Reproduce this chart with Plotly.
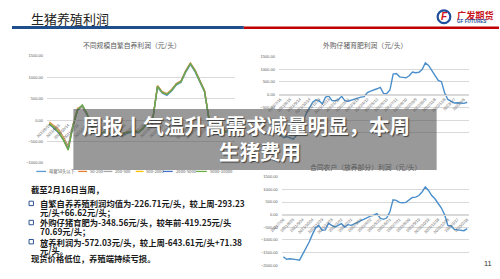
import plotly.graph_objects as go
import pandas as pd

W, H = 500, 279


def fx(px):
    return px / W


def fy(py):
    return 1 - py / H


CJK = "Noto Sans CJK SC"
NUM = "Liberation Sans"

# ---------------- data ----------------
scale_names = ["母猪50头以下", "50-200", "200-500", "500-2000", "2000-5000", "5000-10000"]
scale_colors = ["#5B9BD5", "#ED7D31", "#A5A5A5", "#FFC000", "#4472C4", "#70AD47"]

dates_self = [f"{d.year}/{d.month}/{d.day}" for d in
              pd.date_range(end="2023-02-16", periods=40, freq="14D")]
profit_sub50 = [-100, -180, -260, -420, -600, -120, 230, 320, 120, -150, -350, -330, -280, -340,
                -370, -350, -320, -290, -270, -300, -200, -60, 10, 770, 630, 580, 680, 820, 880,
                1120, 1300, 1130, 880, 660, -20, -270, -320, -300, -270, -250]
profit_50_200 = [-40, -120, -220, -400, -620, -100, 280, 330, 140, -130, -320, -300, -250, -310,
                 -340, -320, -290, -260, -240, -270, -170, -30, 40, 810, 670, 620, 720, 860, 920,
                 1160, 1340, 1170, 920, 700, 20, -230, -280, -260, -230, -210]
profit_200_500 = [-60, -150, -240, -410, -640, -110, 260, 300, 130, -140, -340, -310, -260, -320,
                  -350, -330, -300, -270, -250, -280, -180, -40, 30, 790, 650, 600, 700, 840, 900,
                  1140, 1320, 1150, 900, 680, 0, -250, -300, -280, -250, -226]
profit_500_2000 = [-70, -160, -270, -440, -660, -130, 240, 340, 150, -130, -330, -300, -255, -315,
                   -345, -325, -295, -265, -245, -275, -175, -35, 35, 800, 655, 605, 705, 845, 905,
                   1145, 1325, 1155, 905, 685, 5, -245, -295, -275, -245, -222]
profit_2000_5000 = [-90, -190, -300, -460, -680, -140, 240, 350, 150, -140, -335, -305, -255, -318,
                    -348, -328, -298, -268, -248, -278, -178, -38, 32, 795, 652, 602, 702, 842, 902,
                    1142, 1322, 1152, 902, 682, 2, -248, -298, -278, -248, -224]
profit_5000_10000 = [-80, -170, -290, -470, -700, -150, 250, 360, 160, -120, -330, -310, -260, -320,
                     -350, -330, -300, -270, -250, -280, -180, -40, 30, 790, 650, 600, 700, 840, 900,
                     1140, 1320, 1150, 900, 680, 0, -250, -300, -280, -250, -226]
self_series = [profit_sub50, profit_50_200, profit_200_500, profit_500_2000,
               profit_2000_5000, profit_5000_10000]

dates_piglet = [f"{d.year}/{d.month}/{d.day}" for d in
                pd.date_range(end="2023-02-16", periods=59, freq="10D")]
profit_piglet = [-1600, -1700, -1650, -1700, -1750, -1600, -1350, -1050, -750, -500,
                 -300, -200, -250, -365, -100, -60, -235, -240, -200, -65, -240, -260, -215,
                 -185, -150, -100, -80, 80, 140, 170, 230, 287, 50, 40, 180, 809, 830, 700,
                 678, 660, 740, 887, 860, 880, 990, 1250, 1150, 950, 750, 560, 510, 65, -190,
                 -250, -330, -320, -330, -345, -300]

dates_contract = [f"{d.year}/{d.month}/{d.day}" for d in
                  pd.date_range(end="2023-02-16", periods=58, freq="10D")]
profit_contract = [-1671, -1763, -1745, -1750, -1780, -1800, -1570, -1340, -1080, -780, -520,
                   -430, -618, -600, -340, -421, -487, -421, -355, -487, -395, -421, -355, -310,
                   -250, -158, -92, -53, -20, 39, -132, -184, -132, 105, 590, 566, 490, 474, 490,
                   570, 680, 697, 760, 900, 1100, 960, 760, 632, 450, 263, 0, -421, -447, -579,
                   -600, -615, -632, -553]

# ---------------- figure ----------------
fig = go.Figure()

for name, color, vals in zip(scale_names, scale_colors, self_series):
    fig.add_trace(go.Scatter(x=dates_self, y=vals, mode="lines", name=name,
                             line=dict(color=color, width=1.3), xaxis="x", yaxis="y",
                             showlegend=False))

fig.add_trace(go.Scatter(x=dates_piglet, y=profit_piglet, mode="lines",
                         line=dict(color="#4A8FCB", width=1.4), xaxis="x2", yaxis="y2",
                         showlegend=False))
fig.add_trace(go.Scatter(x=dates_contract, y=profit_contract, mode="lines",
                         line=dict(color="#4A8FCB", width=1.4), xaxis="x3", yaxis="y3",
                         showlegend=False))

tickfont = dict(family=NUM, size=4, color="#595959")
grid = "#D9D9D9"


def zero_pos(dom, rng):
    return dom[0] + (0 - rng[0]) / (rng[1] - rng[0]) * (dom[1] - dom[0])


panels = [
    # xaxis key, yaxis key, x px domain, y px domain, y range, dates, label step
    ("xaxis", "yaxis", "x", (36, 229), (163, 54), [-1000, 1500], dates_self, 2),
    ("xaxis2", "yaxis2", "x2", (274, 469), (145, 54.5), [-2000, 1500], dates_piglet, 3),
    ("xaxis3", "yaxis3", "x3", (277, 469), (267, 177), [-2000, 1500], dates_contract, 3),
]
layout_axes = {}
for xk, yk, xname, xd, yd, yr, dts, step in panels:
    xdom = [fx(xd[0]), fx(xd[1])]
    ydom = [fy(yd[0]), fy(yd[1])]
    layout_axes[yk] = dict(domain=ydom, range=yr, dtick=500, tickformat=".2f",
                           gridcolor=grid, gridwidth=0.6, zeroline=False, showline=False,
                           tickfont=tickfont, anchor=xname, ticks="", ticklabelstandoff=3)
    layout_axes[xk] = dict(domain=xdom, type="category", range=[-0.5, len(dts) - 0.5],
                           anchor="free", position=zero_pos(ydom, yr),
                           tickmode="array", tickvals=dts[::step], ticktext=dts[::step],
                           tickangle=-45, tickfont=tickfont, showgrid=False,
                           showline=True, linecolor=grid, linewidth=0.8, ticks="",
                           zeroline=False)

shapes = [
    dict(type="rect", xref="paper", yref="paper", x0=fx(0), x1=fx(238), y0=fy(26.6), y1=fy(23.4),
         fillcolor="#1F4E8C", line=dict(width=0)),
    dict(type="rect", xref="paper", yref="paper", x0=fx(238), x1=fx(500), y0=fy(26.6), y1=fy(23.9),
         fillcolor="#C00000", line=dict(width=0)),
    # logo ring
    dict(type="circle", xref="paper", yref="paper", x0=fx(437), x1=fx(450), y0=fy(20.5), y1=fy(7.5),
         line=dict(color="#1F4E9C", width=2.2), fillcolor="rgba(0,0,0,0)"),
    # overlay box
    dict(type="rect", xref="paper", yref="paper", x0=fx(63), x1=fx(436), y0=fy(170), y1=fy(108),
         fillcolor="rgba(80,80,80,0.58)", line=dict(width=0), layer="above"),
]

annotations = [
    dict(text="生猪养殖利润", x=fx(17), y=fy(16), xanchor="left", yanchor="middle",
         font=dict(family=CJK, size=13, color="#222222")),
    dict(text="F", x=fx(444), y=fy(14), xanchor="center", yanchor="middle",
         font=dict(family=NUM, size=10, color="#D0121B", weight=700, style="italic")),
    dict(text="广发期货", x=fx(455), y=fy(12), xanchor="left", yanchor="middle",
         font=dict(family=CJK, size=9.2, color="#C8161D", weight=700)),
    dict(text="GF FUTURES", x=fx(455), y=fy(19.3), xanchor="left", yanchor="middle",
         font=dict(family=NUM, size=4.6, color="#1F4E9C", weight=700)),
    dict(text="不同规模自繁自养利润（元/头）", x=fx(123), y=fy(43), xanchor="center", yanchor="middle",
         font=dict(family=CJK, size=6.8, color="#595959")),
    dict(text="外购仔猪育肥利润（元/头）", x=fx(362), y=fy(43), xanchor="center", yanchor="middle",
         font=dict(family=CJK, size=6.8, color="#595959")),
    dict(text="合同农户（放养部分）利润（元/头）", x=fx(363), y=fy(167), xanchor="center",
         yanchor="middle", font=dict(family=CJK, size=6.8, color="#595959")),
    dict(text="周报丨气温升高需求减量明显，本周", x=fx(240), y=fy(124), xanchor="center",
         yanchor="middle",
         font=dict(family=CJK, size=20.5, color="white", weight=700,
                   shadow="1px 1px 1px rgba(40,40,40,0.8)")),
    dict(text="生猪费用", x=fx(255), y=fy(151), xanchor="center", yanchor="middle",
         font=dict(family=CJK, size=20.5, color="white", weight=700,
                   shadow="1px 1px 1px rgba(40,40,40,0.8)")),
    dict(text="11", x=fx(489), y=fy(265.5), xanchor="center", yanchor="middle",
         font=dict(family=NUM, size=7.5, color="#333333")),
]

# manual legend for the first chart
legend_lines = [(25, 35), (68, 77), (94, 103), (127, 135), (155, 165), (189, 200)]
for (a, b), name, color in zip(legend_lines, scale_names, scale_colors):
    shapes.append(dict(type="line", xref="paper", yref="paper", x0=fx(a), x1=fx(b),
                       y0=fy(171.5), y1=fy(171.5), line=dict(color=color, width=1.3)))
    annotations.append(dict(text=name, x=fx(b + 1), y=fy(171.5), xanchor="left",
                            yanchor="middle", font=dict(family=CJK, size=4.2, color="#595959")))

# bottom-left commentary
body_font = dict(family=CJK, size=8.3, color="#1A1A1A", weight=700)
text_lines = [
    ("截至2月16日当周，", 17, 189.5, False),
    ("自繁自养养殖利润均值为-226.71元/头，较上周-293.23", 27, 204, True),
    ("元/头+66.62元/头；", 27, 213, False),
    ("外购仔猪育肥为-348.56元/头，较年前-419.25元/头", 27, 223.5, True),
    ("70.69元/头；", 27, 232, False),
    ("放养利润为-572.03元/头，较上周-643.61元/头+71.38", 27, 243, True),
    ("元/头。", 27, 251.5, False),
    ("现货价格低位，养殖端持续亏损。", 17, 260, False),
]
for txt, x, y, bullet in text_lines:
    annotations.append(dict(text=txt, x=fx(x), y=fy(y), xanchor="left", yanchor="middle",
                            font=body_font))
    if bullet:
        shapes.append(dict(type="rect", xref="paper", yref="paper", x0=fx(17.5), x1=fx(22),
                           y0=fy(y + 2.3), y1=fy(y - 2.2), line=dict(color="#2F5597", width=1),
                           fillcolor="rgba(0,0,0,0)"))

for a in annotations:
    a.update(xref="paper", yref="paper", showarrow=False)

fig.update_layout(
    width=W, height=H, margin=dict(l=0, r=0, t=0, b=0),
    paper_bgcolor="white", plot_bgcolor="white",
    showlegend=False, shapes=shapes, annotations=annotations,
    **layout_axes,
)

fig.write_html("out.html")
